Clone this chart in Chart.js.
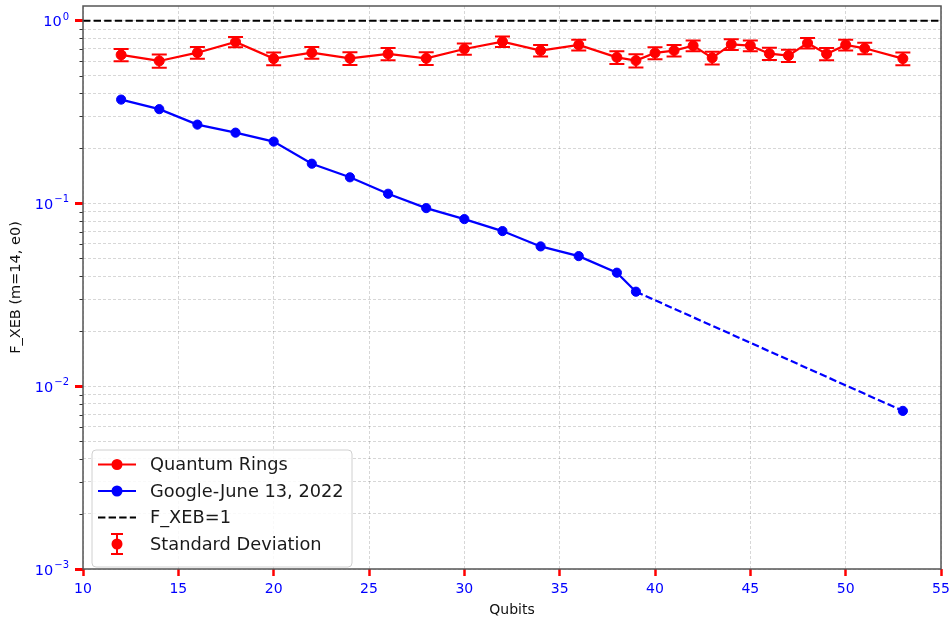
<!DOCTYPE html>
<html>
<head>
<meta charset="utf-8">
<script src="https://cdn.jsdelivr.net/npm/chart.js@4.4.1/dist/chart.umd.min.js"></script>
<style>
  html, body { margin: 0; padding: 0; background: #fff; }
  canvas { display: block; }
</style>
</head>
<body>
<canvas id="canvas" width="950" height="623"></canvas>
<script>
"use strict";

// Quantum Rings 數據
const qrQubits = [12, 14, 16, 18, 20, 22, 24, 26, 28, 30, 32, 34, 36, 38, 39, 40, 41, 42, 43, 44, 45, 46, 47, 48, 49, 50, 51, 53];
const qrFxeb = [0.650, 0.602, 0.668, 0.765, 0.620, 0.668, 0.622, 0.658, 0.622, 0.700, 0.768, 0.686, 0.737, 0.630,
                0.605, 0.666, 0.686, 0.730, 0.626, 0.742, 0.730, 0.660, 0.644, 0.755, 0.658, 0.737, 0.706, 0.620];
const qrStd = [0.05, 0.05, 0.05, 0.05, 0.05, 0.05, 0.05, 0.05, 0.05, 0.05, 0.05, 0.05, 0.05, 0.05,
               0.05, 0.05, 0.05, 0.05, 0.05, 0.05, 0.05, 0.05, 0.05, 0.05, 0.05, 0.05, 0.05, 0.05];

// Google 數據 (39 -> 53 為虛線外推)
const googleQubits = [12, 14, 16, 18, 20, 22, 24, 26, 28, 30, 32, 34, 36, 38, 39, 53];
const googleFxeb = [0.370, 0.328, 0.270, 0.244, 0.218, 0.165, 0.139, 0.113, 0.0943, 0.0821, 0.0706, 0.0582, 0.0515, 0.0418, 0.0329, 0.00733];

// F_XEB = 1 參考線
const refQubits = [10, 55];
const refFxeb = [1, 1];

const legendLabels = ['Quantum Rings', 'Google-June 13, 2022', 'F_XEB=1', 'Standard Deviation'];
const yDecades = [0.001, 0.01, 0.1, 1];
const yTickExps = ['\u2212\u0033', '\u2212\u0032', '\u2212\u0031', '0'];

const RED = '#ff0000';
const BLUE = '#0000ff';
const FONT = "'DejaVu Sans', sans-serif";
const DASH = [7.4, 3.2];

Chart.defaults.font.family = FONT;

const toPoints = (xs, ys) => xs.map((x, i) => ({ x: x, y: ys[i] }));

// 誤差棒
const errorBars = {
  id: 'errorBars',
  beforeDatasetsDraw(chart) {
    const ctx = chart.ctx;
    const xs = chart.scales.x, ys = chart.scales.y;
    ctx.save();
    ctx.strokeStyle = RED;
    ctx.lineWidth = 2;
    qrQubits.forEach((q, i) => {
      const px = xs.getPixelForValue(q);
      const top = ys.getPixelForValue(qrFxeb[i] + qrStd[i]);
      const bot = ys.getPixelForValue(qrFxeb[i] - qrStd[i]);
      ctx.beginPath();
      ctx.moveTo(px, top); ctx.lineTo(px, bot);
      ctx.moveTo(px - 7.5, top); ctx.lineTo(px + 7.5, top);
      ctx.moveTo(px - 7.5, bot); ctx.lineTo(px + 7.5, bot);
      ctx.stroke();
    });
    ctx.restore();
  }
};

// 外框、次刻度、y 軸標籤、圖例
const frameAndLegend = {
  id: 'frameAndLegend',
  afterDraw(chart) {
    const ctx = chart.ctx;
    const a = chart.chartArea;
    const ys = chart.scales.y;
    ctx.save();

    // minor y ticks
    ctx.strokeStyle = '#333';
    ctx.lineWidth = 1;
    ys.ticks.forEach(t => {
      if (yDecades.includes(t.value)) return;
      const py = Math.round(ys.getPixelForValue(t.value)) + 0.5;
      ctx.beginPath();
      ctx.moveTo(a.left - 3.5, py); ctx.lineTo(a.left, py);
      ctx.stroke();
    });

    // y labels 10^k (mathtext-like superscript)
    ctx.fillStyle = BLUE;
    ctx.textBaseline = 'alphabetic';
    yDecades.forEach((d, i) => {
      const py = ys.getPixelForValue(d);
      ctx.font = '10px ' + FONT;
      ctx.textAlign = 'right';
      const right = a.left - 14;
      ctx.fillText(yTickExps[i], right, py - 1);
      const ew = ctx.measureText(yTickExps[i]).width;
      ctx.font = '14.5px ' + FONT;
      ctx.fillText('10', right - ew - 1, py + 5.5);
    });

    // frame
    ctx.strokeStyle = '#555';
    ctx.lineWidth = 1.5;
    ctx.strokeRect(a.left, a.top, a.right - a.left, a.bottom - a.top);

    // legend
    const x0 = a.left + 9, y0 = a.bottom - 119, w = 260, h = 117;
    ctx.beginPath();
    ctx.roundRect(x0, y0, w, h, 4);
    ctx.fillStyle = 'rgba(255,255,255,0.85)';
    ctx.fill();
    ctx.strokeStyle = '#d0d0d0';
    ctx.lineWidth = 1;
    ctx.stroke();

    const cx = x0 + 25;
    legendLabels.forEach((label, i) => {
      const ry = y0 + 14.5 + i * 26.5;
      ctx.setLineDash([]);
      if (i < 2) {
        const c = i === 0 ? RED : BLUE;
        ctx.strokeStyle = c; ctx.fillStyle = c; ctx.lineWidth = 2.2;
        ctx.beginPath(); ctx.moveTo(x0 + 6, ry); ctx.lineTo(x0 + 44, ry); ctx.stroke();
        ctx.beginPath(); ctx.arc(cx, ry, 5.5, 0, Math.PI * 2); ctx.fill();
      } else if (i === 2) {
        ctx.strokeStyle = '#000'; ctx.lineWidth = 2;
        ctx.setLineDash(DASH);
        ctx.beginPath(); ctx.moveTo(x0 + 6, ry); ctx.lineTo(x0 + 44, ry); ctx.stroke();
        ctx.setLineDash([]);
      } else {
        ctx.strokeStyle = RED; ctx.fillStyle = RED; ctx.lineWidth = 2;
        ctx.beginPath();
        ctx.moveTo(cx, ry - 10); ctx.lineTo(cx, ry + 10);
        ctx.moveTo(cx - 6, ry - 10); ctx.lineTo(cx + 6, ry - 10);
        ctx.moveTo(cx - 6, ry + 10); ctx.lineTo(cx + 6, ry + 10);
        ctx.stroke();
        ctx.beginPath(); ctx.arc(cx, ry, 5.5, 0, Math.PI * 2); ctx.fill();
      }
      ctx.fillStyle = '#1a1a1a';
      ctx.font = '17.8px ' + FONT;
      ctx.textBaseline = 'middle';
      ctx.textAlign = 'left';
      ctx.fillText(label, x0 + 58, ry + 1);
    });
    ctx.restore();
  }
};

const canvas = document.getElementById('canvas');
const ctx = canvas.getContext('2d');

let myChart = new Chart(ctx, {
  type: 'line',
  data: {
    datasets: [{
      label: legendLabels[0],
      data: toPoints(qrQubits, qrFxeb),
      borderColor: RED,
      backgroundColor: RED,
      borderWidth: 2.2,
      pointRadius: 5,
      pointBorderWidth: 1,
      tension: 0
    }, {
      label: legendLabels[1],
      data: toPoints(googleQubits, googleFxeb),
      borderColor: BLUE,
      backgroundColor: BLUE,
      borderWidth: 2.2,
      pointRadius: 4.6,
      pointBorderWidth: 1,
      tension: 0,
      segment: {
        borderDash: c => c.p0.parsed.x >= 39 ? DASH : undefined
      }
    }, {
      label: legendLabels[2],
      data: toPoints(refQubits, refFxeb),
      borderColor: '#000',
      borderWidth: 2,
      borderDash: DASH,
      pointRadius: 0,
      tension: 0
    }]
  },
  options: {
    responsive: false,
    animation: false,
    devicePixelRatio: 1,
    layout: { padding: { top: 5, right: 9, left: 0, bottom: 0 } },
    plugins: {
      legend: { display: false },
      tooltip: { enabled: false }
    },
    scales: {
      x: {
        type: 'linear',
        min: 10,
        max: 55,
        afterFit: s => {
          s.height = 54;
          s.paddingLeft = 0; s.paddingRight = 0;
        },
        ticks: {
          stepSize: 5,
          color: BLUE,
          font: { size: 14 },
          padding: 5,
          maxRotation: 0,
          autoSkip: false
        },
        grid: {
          color: 'rgba(0,0,0,0.2)',
          lineWidth: 0.8,
          tickColor: RED,
          tickWidth: 2.5,
          tickLength: 7
        },
        border: { display: false, dash: [3, 2] },
        title: {
          display: true,
          text: 'Qubits',
          color: '#111',
          font: { size: 14 },
          padding: { top: 0, bottom: 4.5 }
        }
      },
      y: {
        type: 'logarithmic',
        min: 0.001,
        max: 1.203,
        afterFit: s => {
          s.width = 83;
          s.paddingTop = 0; s.paddingBottom = 0;
        },
        afterBuildTicks: s => {
          const ticks = [];
          yDecades.forEach(d => {
            for (let m = 1; m <= 9; m++) {
              const v = d * m;
              if (v <= s.max) ticks.push({ value: v, major: m === 1 });
            }
          });
          s.ticks = ticks;
        },
        ticks: {
          autoSkip: false,
          color: BLUE,
          font: { size: 14.5 },
          padding: 6,
          // 標籤由外掛繪製 (上標)
          callback: () => ''
        },
        grid: {
          color: 'rgba(0,0,0,0.2)',
          lineWidth: 0.8,
          tickColor: c => (c.tick && yDecades.includes(c.tick.value)) ? RED : 'rgba(0,0,0,0)',
          tickWidth: 3,
          tickLength: 8
        },
        border: { display: false, dash: [3, 2] },
        title: {
          display: true,
          text: 'F_XEB (m=14, e0)',
          color: '#111',
          font: { size: 14.5 },
          padding: { top: 8, bottom: 0 }
        }
      }
    }
  },
  plugins: [errorBars, frameAndLegend]
});
</script>
</body>
</html>
